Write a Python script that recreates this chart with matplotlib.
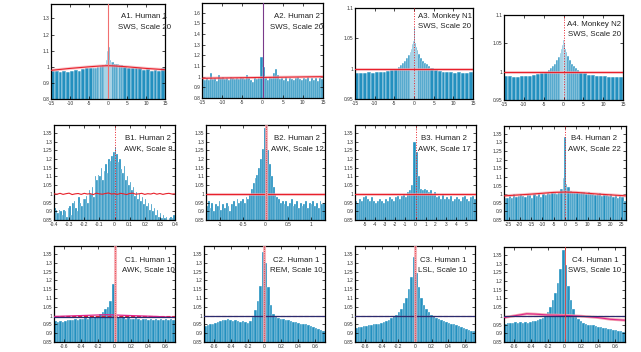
import numpy as np
import matplotlib
matplotlib.use("Agg")
import matplotlib.pyplot as plt

plt.rcParams['font.family'] = ['Liberation Sans', 'DejaVu Sans']

W, H = 641, 352
BAR = '#2390bf'
RED = '#e8202a'
PINK = '#f4a4ac'
NAVY = '#2b2b6e'
MAG = '#e0248c'

# ---------------- data ----------------
A_pos_edges = [0, 0.25, 0.5, 0.75, 1, 1.5, 2, 2.5, 3, 3.5, 4, 5, 6, 7, 8, 9, 10, 11, 12, 13, 14, 15]
A_edges = [-e for e in A_pos_edges[:0:-1]] + A_pos_edges

A1_h = [0.975, 0.975, 0.97, 0.975, 0.97, 0.975, 0.98, 0.975, 0.985, 0.99, 0.99,
        0.995, 0.99, 1.0, 1.0, 1.005, 1.01, 1.01, 1.02, 1.04, 1.10,
        1.28, 1.12, 1.04, 1.03, 1.03, 1.02, 1.02, 1.02, 1.01, 1.01, 1.0,
        0.995, 0.99, 0.99, 0.99, 0.98, 0.985, 0.975, 0.98, 0.975, 0.99]
A1_red_x = [-15, -10, -5, -2, 0, 2, 5, 10, 15]
A1_red_y = [0.978, 0.99, 1.0, 1.005, 1.007, 1.005, 1.0, 0.99, 0.982]

A2_edges = np.linspace(-15, 15, 61)
A2_h = [0.98, 0.97, 0.99, 0.97, 1.03, 0.98, 0.99, 0.96, 1.02, 0.99,
        1.0, 0.98, 0.99, 0.97, 1.0, 0.99, 0.98, 0.99, 0.98, 1.0,
        0.99, 0.98, 1.02, 0.99, 0.97, 0.95, 1.0, 0.98, 0.99, 1.18,
        1.09, 1.0, 0.97, 1.0, 0.99, 1.03, 1.07, 1.02, 0.98, 0.99,
        0.97, 1.0, 0.96, 0.99, 0.98, 0.97, 0.99, 1.0, 0.98, 0.97,
        0.99, 0.98, 1.0, 0.96, 0.99, 0.97, 0.99, 0.96, 0.99, 0.98]
A2_red_x = [-15, 15]
A2_red_y = [0.985, 1.0]

A3_h = [0.993, 0.993, 0.993, 0.994, 0.993, 0.994, 0.994, 0.995, 0.996, 0.998, 1.0,
        1.003, 1.006, 1.009, 1.012, 1.017, 1.022, 1.028, 1.033, 1.04, 1.046,
        1.068, 1.043, 1.036, 1.03, 1.024, 1.018, 1.013, 1.01, 1.007, 1.004, 1.001,
        0.998, 0.996, 0.995, 0.994, 0.994, 0.993, 0.994, 0.993, 0.993, 0.994]
A4_h = [0.992, 0.992, 0.991, 0.991, 0.992, 0.992, 0.993, 0.994, 0.996, 0.998, 1.0,
        1.003, 1.006, 1.01, 1.014, 1.02, 1.026, 1.033, 1.04, 1.047, 1.056,
        1.084, 1.05, 1.04, 1.034, 1.027, 1.02, 1.014, 1.01, 1.006, 1.003, 1.0,
        0.997, 0.995, 0.994, 0.993, 0.992, 0.992, 0.991, 0.991, 0.991, 0.991]

B1_edges = np.linspace(-0.4, 0.4, 81)
B1_h = [0.92, 0.91, 0.89, 0.91, 0.90, 0.88, 0.91, 0.90, 0.87, 0.92,
        0.93, 0.88, 0.95, 0.96, 0.92, 0.90, 0.98, 0.95, 0.93, 0.97,
        0.97, 0.99, 0.95, 1.02, 1.00, 1.04, 0.98, 1.10, 1.08, 1.11,
        1.10, 1.15, 1.08, 1.13, 1.17, 1.12, 1.20, 1.19, 1.22, 1.24,
        1.27, 1.23, 1.18, 1.20, 1.14, 1.12, 1.16, 1.08, 1.10, 1.05,
        1.07, 1.02, 1.04, 0.99, 1.01, 0.97, 1.00, 0.96, 0.98, 0.94,
        0.97, 0.93, 0.95, 0.91, 0.94, 0.90, 0.92, 0.88, 0.91, 0.87,
        0.89, 0.86, 0.88, 0.86, 0.87, 0.85, 0.86, 0.87, 0.86, 0.88]
B1_red_x = np.linspace(-0.4, 0.4, 41)
B1_red_y = [1.0, 0.998, 1.003, 0.997, 1.001, 1.004, 0.996, 1.0, 1.002, 0.997,
            1.003, 0.999, 1.001, 0.996, 1.004, 1.0, 0.998, 1.002, 1.005, 0.999,
            1.001, 0.997, 1.003, 1.0, 0.996, 1.002, 1.004, 0.998, 1.0, 1.003,
            0.997, 1.001, 0.999, 1.004, 0.998, 1.002, 0.997, 1.001, 1.003, 0.999, 1.0]

B2_edges = np.linspace(-1.32, 1.32, 67)
B2_h = [0.93, 0.96, 0.92, 0.95, 0.90, 0.94, 0.93, 0.96, 0.91, 0.94,
        0.92, 0.95, 0.93, 0.90, 0.94, 0.96, 0.93, 0.97, 0.95, 0.96,
        0.97, 0.95, 0.98, 0.97, 1.00, 1.03, 1.06, 1.09, 1.11, 1.15,
        1.20, 1.26, 1.38, 1.32, 1.25, 1.17, 1.10, 1.04, 1.00, 0.98,
        0.97, 0.95, 0.96, 0.94, 0.96, 0.93, 0.95, 0.97, 0.93, 0.94,
        0.96, 0.92, 0.95, 0.93, 0.94, 0.96, 0.92, 0.95, 0.94, 0.96,
        0.93, 0.95, 0.92, 0.96, 0.94, 0.95]

B3_edges = np.linspace(-6, 6, 61)
B3_h = [0.96, 0.95, 0.97, 0.96, 0.98, 0.99, 0.97, 0.96, 0.98, 0.96,
        0.95, 0.96, 0.97, 0.96, 0.95, 0.97, 0.96, 0.98, 0.97, 0.96,
        0.98, 0.99, 0.97, 0.99, 1.00, 0.98, 1.01, 1.02, 1.05, 1.30,
        1.24, 1.10, 1.03, 1.02, 1.03, 1.02, 1.01, 1.02, 1.00, 1.01,
        0.98, 0.99, 0.97, 1.00, 0.97, 0.98, 0.97, 0.99, 0.96, 0.97,
        0.98, 0.97, 0.96, 0.98, 0.99, 0.97, 0.96, 0.98, 0.99, 0.97]

B4_edges = list(range(-27, 0)) + [-0.3, 0.3] + list(range(1, 28))
B4_h = [0.98, 0.975, 0.99, 0.98, 1.0, 0.985, 0.99, 1.0, 0.99, 0.985,
        1.0, 0.995, 0.98, 1.0, 0.99, 1.005, 0.985, 1.0, 0.995, 1.005,
        1.0, 1.01, 1.005, 1.0, 1.015, 1.03,
        1.095, 1.33, 1.06,
        1.04, 1.02, 1.015, 1.01, 1.015, 1.005, 1.01, 1.015, 1.0, 1.01,
        1.005, 1.0, 0.995, 1.0, 1.005, 0.99, 1.0, 0.995, 0.99, 1.0,
        0.985, 0.995, 0.98, 0.99, 0.985, 0.96]
B4_red_x = [-27, -15, -5, 0, 5, 15, 27]
B4_red_y = [0.99, 1.0, 1.01, 1.012, 1.01, 1.0, 0.99]

C_edges = np.linspace(-0.72, 0.72, 49)
C1_h = [0.97, 0.965, 0.97, 0.965, 0.97, 0.975, 0.975, 0.975,
        0.98, 0.975, 0.98, 0.98, 0.985, 0.98, 0.99, 0.985,
        0.99, 1.0, 1.01, 1.02, 1.04, 1.05, 1.08, 1.18,
        1.0, 0.99, 0.985, 0.99, 0.98, 0.985, 0.98, 0.98,
        0.985, 0.98, 0.975, 0.98, 0.98, 0.975, 0.98, 0.975,
        0.98, 0.975, 0.98, 0.975, 0.98, 0.975, 0.98, 0.975]
C2_h = [0.94, 0.945, 0.95, 0.955, 0.96, 0.965, 0.97, 0.975,
        0.975, 0.98, 0.975, 0.97, 0.975, 0.97, 0.965, 0.97,
        0.965, 0.96, 0.97, 0.99, 1.03, 1.08, 1.17, 1.36,
        1.30, 1.16, 1.06, 1.01, 0.99, 0.985, 0.98, 0.98,
        0.975, 0.975, 0.97, 0.965, 0.965, 0.96, 0.955, 0.955,
        0.95, 0.945, 0.94, 0.935, 0.93, 0.925, 0.92, 0.91]
C3_h = [0.93, 0.935, 0.935, 0.94, 0.94, 0.945, 0.945, 0.95,
        0.955, 0.955, 0.96, 0.965, 0.97, 0.975, 0.985, 0.995,
        1.005, 1.02, 1.04, 1.07, 1.10, 1.15, 1.22, 1.33,
        1.24, 1.16, 1.10, 1.06, 1.04, 1.02, 1.005, 0.995,
        0.985, 0.98, 0.975, 0.97, 0.965, 0.96, 0.955, 0.95,
        0.945, 0.94, 0.935, 0.93, 0.925, 0.92, 0.915, 0.91]
C4_h = [0.955, 0.96, 0.96, 0.96, 0.965, 0.96, 0.965, 0.96,
        0.965, 0.96, 0.965, 0.97, 0.97, 0.975, 0.98, 0.99,
        1.0, 1.02, 1.05, 1.09, 1.13, 1.19, 1.27, 1.375,
        1.29, 1.17, 1.09, 1.04, 1.0, 0.98, 0.97, 0.96,
        0.955, 0.95, 0.945, 0.945, 0.94, 0.935, 0.935, 0.93,
        0.93, 0.925, 0.925, 0.92, 0.92, 0.915, 0.915, 0.91]
C1_mag_x = [-0.72, -0.4, -0.1, 0.2, 0.5, 0.72]
C1_mag_y = [0.995, 1.0, 1.005, 1.0, 0.995, 0.99]
C4_mag_x = [-0.72, -0.6, -0.45, -0.35, -0.2, 0, 0.2, 0.4, 0.55, 0.72]
C4_mag_y = [0.99, 1.0, 1.012, 1.01, 1.005, 1.003, 0.998, 0.99, 0.98, 0.975]

labels = {
    'A1': ('A1. Human 1', 'SWS, Scale 20'), 'A2': ('A2. Human 2', 'SWS, Scale 20'),
    'A3': ('A3. Monkey N1', 'SWS, Scale 20'), 'A4': ('A4. Monkey N2', 'SWS, Scale 20'),
    'B1': ('B1. Human 2', 'AWK, Scale 8'), 'B2': ('B2. Human 2', 'AWK, Scale 12'),
    'B3': ('B3. Human 2', 'AWK, Scale 17'), 'B4': ('B4. Human 2', 'AWK, Scale 22'),
    'C1': ('C1. Human 1', 'AWK, Scale 10'), 'C2': ('C2. Human 1', 'REM, Scale 10'),
    'C3': ('C3. Human 1', 'LSL, Scale 10'), 'C4': ('C4. Human 1', 'SWS, Scale 10'),
}

# ---------------- layout (pixels: left, right, top, bottom) ----------------
boxes = {
    'A1': (51, 165, 4, 99), 'A2': (202, 323, 3, 98), 'A3': (355, 473, 8, 99), 'A4': (504, 623, 15, 100),
    'B1': (54, 175, 125, 220), 'B2': (206, 325, 125, 220), 'B3': (355, 476, 125, 220), 'B4': (504, 626, 126, 220),
    'C1': (54, 175, 246, 342), 'C2': (204, 325, 246, 342), 'C3': (355, 475, 246, 342), 'C4': (504, 625, 247, 342),
}
text_pos = {
    'A1': (144, 17, 27), 'A2': (297, 17, 27), 'A3': (445, 16, 26), 'A4': (594, 24, 34),
    'B1': (148, 139, 149), 'B2': (297, 139, 149), 'B3': (444, 139, 149), 'B4': (594, 139, 149),
    'C1': (148, 260, 270), 'C2': (296, 260, 270), 'C3': (443, 260, 270), 'C4': (595, 260, 270),
}
edge_lw = {'A1': 0.35, 'A2': 0.3, 'A3': 0.35, 'A4': 0.35, 'B1': 0.2, 'B2': 0.2, 'B3': 0.25,
           'B4': 0.3, 'C1': 0.25, 'C2': 0.25, 'C3': 0.25, 'C4': 0.25}

fig = plt.figure(figsize=(W / 100, H / 100), dpi=100)


def make_ax(key, xlim, ylim, xticks, yticks):
    l, r, t, b = boxes[key]
    ax = fig.add_axes([l / W, 1 - b / H, (r - l) / W, (b - t) / H])
    ax.set_xlim(*xlim)
    ax.set_ylim(*ylim)
    ax.set_xticks(xticks)
    ax.set_yticks(yticks)
    ax.set_xticklabels(['%g' % v for v in xticks])
    ax.set_yticklabels(['%g' % v for v in yticks])
    ax.tick_params(direction='in', length=2, width=0.5, labelsize=3.5, pad=1.2,
                   top=True, right=True, labelcolor='#333333')
    for s in ax.spines.values():
        s.set_linewidth(0.9)
    return ax


def bars(ax, key, edges, h):
    edges = np.asarray(edges, dtype=float)
    ax.bar(edges[:-1], h, width=np.diff(edges), align='edge', color=BAR,
           edgecolor='white', linewidth=edge_lw[key], zorder=1)


def hline(ax, x, y, color=RED, band=True):
    if band:
        ax.plot(x, y, color=PINK, lw=2.2, alpha=0.6, zorder=2, solid_capstyle='butt')
    ax.plot(x, y, color=color, lw=0.8, zorder=3)


def vline(ax, style):
    if style == 'dotted':
        ax.axvline(0, color=RED, lw=0.7, ls=':', zorder=4)
    elif style == 'solidlight':
        ax.axvline(0, color='#f07070', lw=0.8, zorder=4)
    elif style == 'purple':
        ax.axvline(0, color='#7a3a8a', lw=0.8, zorder=4)
    elif style == 'pinkband':
        ax.axvline(0, color=PINK, lw=2.2, alpha=0.8, zorder=4)
        ax.axvline(0, color=RED, lw=0.6, ls=':', zorder=5)
    elif style == 'redthin':
        ax.axvline(0, color='#e04040', lw=0.6, zorder=4)


def label(key):
    x, y1, y2 = text_pos[key]
    l1, l2 = labels[key]
    for s, y in ((l1, y1), (l2, y2)):
        fig.text(x / W, 1 - y / H, s, ha='center', va='center', fontsize=5.7, color='#222222')


A_yt1 = [0.8, 0.9, 1, 1.1, 1.2, 1.3]
A_yt2 = [0.8, 0.9, 1, 1.1, 1.2, 1.3, 1.4, 1.5, 1.6]
A_yt3 = [0.95, 1, 1.05, 1.1]
A_xt = [-15, -10, -5, 0, 5, 10, 15]
B_yt = [0.85, 0.9, 0.95, 1, 1.05, 1.1, 1.15, 1.2, 1.25, 1.3, 1.35]
C_xt = [-0.6, -0.4, -0.2, 0, 0.2, 0.4, 0.6]

# Row A
ax = make_ax('A1', (-15, 15), (0.8, 1.39), A_xt, A_yt1)
bars(ax, 'A1', A_edges, A1_h); hline(ax, A1_red_x, A1_red_y); vline(ax, 'solidlight'); label('A1')

ax = make_ax('A2', (-15, 15), (0.8, 1.69), A_xt, A_yt2)
bars(ax, 'A2', A2_edges, A2_h); hline(ax, A2_red_x, A2_red_y); vline(ax, 'purple'); label('A2')

ax = make_ax('A3', (-15, 15), (0.95, 1.1), A_xt, A_yt3)
bars(ax, 'A3', A_edges, A3_h); hline(ax, [-15, 15], [1.0, 1.0]); vline(ax, 'dotted'); label('A3')

ax = make_ax('A4', (-15, 15), (0.95, 1.1), A_xt, A_yt3)
bars(ax, 'A4', A_edges, A4_h); hline(ax, [-15, 15], [1.0, 1.0]); vline(ax, 'dotted'); label('A4')

# Row B
ax = make_ax('B1', (-0.4, 0.4), (0.85, 1.395), [-0.4, -0.3, -0.2, -0.1, 0, 0.1, 0.2, 0.3, 0.4], B_yt)
bars(ax, 'B1', B1_edges, B1_h); hline(ax, B1_red_x, B1_red_y, band=False); vline(ax, 'dotted'); label('B1')

ax = make_ax('B2', (-1.32, 1.32), (0.85, 1.395), [-1, -0.5, 0, 0.5, 1], B_yt)
bars(ax, 'B2', B2_edges, B2_h); hline(ax, [-1.32, 1.32], [1.0, 1.0]); vline(ax, 'pinkband'); label('B2')

ax = make_ax('B3', (-6, 6), (0.85, 1.395), [-5, -4, -3, -2, -1, 0, 1, 2, 3, 4, 5], B_yt)
bars(ax, 'B3', B3_edges, B3_h); hline(ax, [-6, 6], [0.998, 0.998]); vline(ax, 'dotted'); label('B3')

ax = make_ax('B4', (-27, 27), (0.85, 1.395), [-25, -20, -15, -10, -5, 0, 5, 10, 15, 20, 25], B_yt)
bars(ax, 'B4', B4_edges, B4_h); hline(ax, B4_red_x, B4_red_y); vline(ax, 'dotted'); label('B4')

# Row C
for key, h, vstyle in (('C1', C1_h, 'pinkband'), ('C2', C2_h, 'pinkband'),
                       ('C3', C3_h, 'pinkband'), ('C4', C4_h, 'redthin')):
    ax = make_ax(key, (-0.72, 0.72), (0.85, 1.395), C_xt, B_yt)
    bars(ax, key, C_edges, h)
    ax.plot([-0.72, 0.72], [1.0, 1.0], color=RED, lw=0.8, ls='--', zorder=2)
    if key == 'C1':
        ax.plot(C1_mag_x, C1_mag_y, color=MAG, lw=0.9, zorder=3)
        ax.plot([-0.72, 0.72], [0.993, 0.993], color=NAVY, lw=0.9, zorder=3)
    elif key == 'C4':
        ax.plot(C4_mag_x, C4_mag_y, color=PINK, lw=2.0, zorder=2)
        ax.plot(C4_mag_x, C4_mag_y, color=MAG, lw=0.8, zorder=3)
        ax.plot([-0.72, 0.72], [0.998, 0.998], color=NAVY, lw=0.9, zorder=3)
    else:
        ax.plot([-0.72, 0.72], [0.999, 0.999], color=NAVY, lw=0.9, zorder=3)
    vline(ax, vstyle)
    label(key)

fig.savefig('out.png', dpi=100, facecolor='white')
